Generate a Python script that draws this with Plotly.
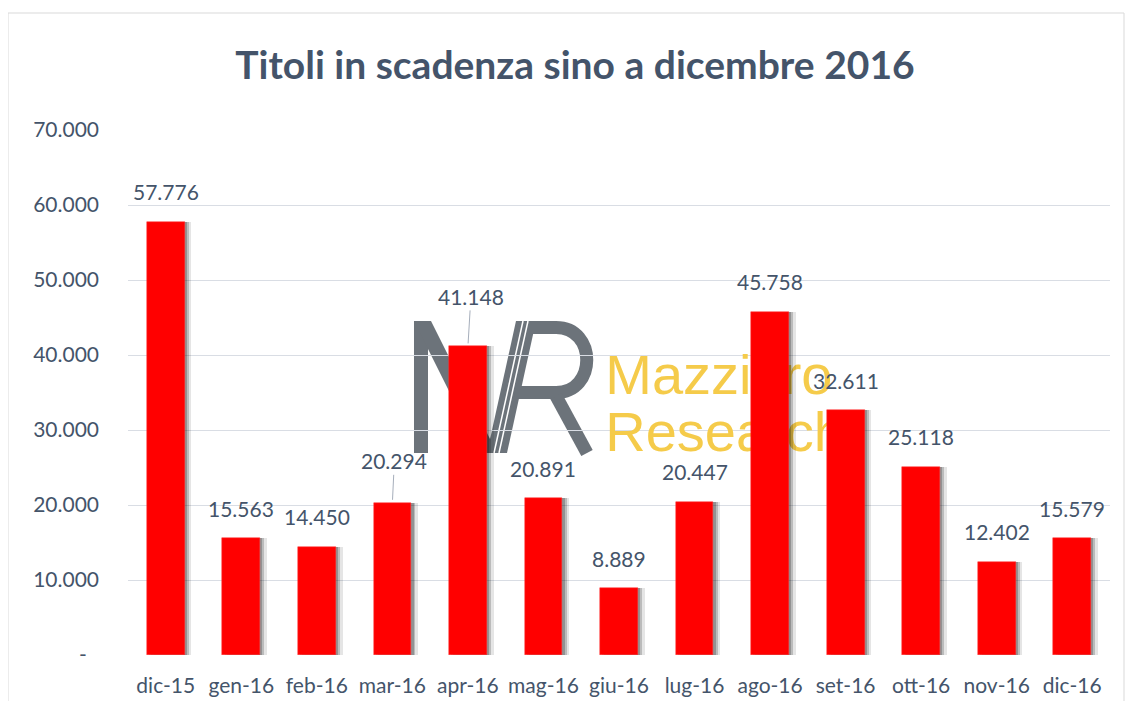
import plotly.graph_objects as go

categories = ["dic-15", "gen-16", "feb-16", "mar-16", "apr-16", "mag-16", "giu-16",
              "lug-16", "ago-16", "set-16", "ott-16", "nov-16", "dic-16"]
values = [57776, 15563, 14450, 20294, 41148, 20891, 8889, 20447, 45758, 32611, 25118, 12402, 15579]
y_ticks = [0, 10000, 20000, 30000, 40000, 50000, 60000, 70000]
title_text = "Titoli in scadenza sino a dicembre 2016"


def fmt(v):
    return f"{v:,}".replace(",", ".")


y_ticktext = ["-\u2007" if v == 0 else fmt(v) for v in y_ticks]

TXT = "#44546A"
FONT = "Lato, 'Open Sans', sans-serif"
LOGO_GREY = "#6C737A"

W, H = 1117, 693
L, T = 120, 122
PW, PH = 982, 525
OFF = 8  # page offset of the figure inside the browser


def P(x, y):
    """page pixel -> paper coords string"""
    xp = (x - OFF - L) / PW
    yp = (T + PH - (y - OFF)) / PH
    return f"{xp:.5f},{yp:.5f}"


def poly(pts):
    return "M" + " L".join(P(x, y) for x, y in pts) + " Z"


fig = go.Figure()

# ---- Watermark logo (drawn beneath grid and bars) ----
logo_fills = [
    poly([(414, 321), (428, 321), (428, 453), (414, 453)]),                 # M stem
    poly([(414, 321), (431, 321), (497, 453), (480, 453)]),                 # M diagonal
    poly([(487, 453), (507, 453), (536, 321), (516, 321)]),                 # shared slash
]
for p in logo_fills:
    fig.add_shape(type="path", path=p, xref="paper", yref="paper", layer="below",
                  fillcolor=LOGO_GREY, line=dict(width=0))
# R bowl and leg as strokes
bowl = ("M" + P(530, 327.5) + " L" + P(556, 327.5) + " C" + P(597, 327.5) + " " +
        P(597, 392.5) + " " + P(556, 392.5) + " L" + P(515, 392.5))
fig.add_shape(type="path", path=bowl, xref="paper", yref="paper", layer="below",
              line=dict(color=LOGO_GREY, width=13))
fig.add_shape(type="path", path="M" + P(556, 396) + " L" + P(587, 453),
              xref="paper", yref="paper", layer="below",
              line=dict(color=LOGO_GREY, width=13))
# double white lines in the slash
for dx in (0, 5):
    fig.add_shape(type="path", path="M" + P(494 + dx, 453) + " L" + P(523 + dx, 321),
                  xref="paper", yref="paper", layer="below",
                  line=dict(color="white", width=1.5))

fig.add_trace(go.Scatter(
    x=[0.486, 0.486], y=[0.524, 0.415], mode="text",
    text=["Mazziero", "Research"], textposition="middle right",
    textfont=dict(family="'Liberation Sans', Arial, sans-serif", size=56, color="#F5CB4A"),
    xaxis="x", yaxis="y", hoverinfo="skip", showlegend=False))

# ---- Bar shadows ----
for off, col in [(0.09, "rgba(0,0,0,0.10)"), (0.055, "rgba(0,0,0,0.18)"), (0.03, "rgba(0,0,0,0.22)")]:
    fig.add_trace(go.Bar(
        x=categories, y=values, width=0.5, offset=-0.25 + off,
        marker=dict(color=col, line=dict(width=0)),
        xaxis="x2", yaxis="y2", hoverinfo="skip", showlegend=False))

fig.add_trace(go.Bar(
    x=categories, y=values, width=0.5, offset=-0.25,
    marker=dict(color="#FF0000", line=dict(color="#FF3030", width=0.5)),
    xaxis="x2", yaxis="y2", showlegend=False))

# ---- Data labels ----
special = {"mar-16": (2, -42), "apr-16": (3, -50)}
for c, v in zip(categories, values):
    if c in special:
        ax, ay = special[c]
        fig.add_annotation(x=c, y=v, xref="x2", yref="y2", text=fmt(v),
                           showarrow=True, arrowhead=0, arrowwidth=1, arrowcolor="#A6AEBB",
                           ax=ax, ay=ay, standoff=3,
                           font=dict(family=FONT, size=21, color=TXT))
    else:
        fig.add_annotation(x=c, y=v, xref="x2", yref="y2", text=fmt(v),
                           showarrow=False, yshift=30,
                           font=dict(family=FONT, size=21, color=TXT))

# ---- Outer chart border ----
fig.add_shape(type="rect", xref="paper", yref="paper",
              x0=(0 - L) / PW, x1=(W - 1 - L) / PW,
              y0=(T + PH - 760) / PH, y1=(T + PH - 5) / PH,
              line=dict(color="#D9D9D9", width=1), fillcolor="rgba(0,0,0,0)", layer="below")

fig.update_layout(
    width=W, height=H,
    margin=dict(l=L, r=W - L - PW, t=T, b=H - T - PH, autoexpand=False),
    paper_bgcolor="white", plot_bgcolor="rgba(0,0,0,0)",
    barmode="overlay", bargap=0,
    title=dict(text=title_text, x=567 / W, xref="container", xanchor="center",
               y=1 - 57 / H, yref="container", yanchor="middle",
               font=dict(family=FONT, size=39, color=TXT, weight="bold")),
    xaxis=dict(range=[0, 1], visible=False, fixedrange=True),
    yaxis=dict(range=[0, 1], visible=False, fixedrange=True),
    xaxis2=dict(overlaying="x", type="category", categoryorder="array", categoryarray=categories,
                showgrid=False, showline=False, ticks="", ticklabelstandoff=16,
                tickfont=dict(family=FONT, size=21, color=TXT), anchor="y2"),
    yaxis2=dict(overlaying="y", range=[0, 70000], tickvals=y_ticks, ticktext=y_ticktext,
                showgrid=True, gridcolor="#D9DDE4", gridwidth=1,
                zeroline=False, showline=False, ticks="", ticklabelstandoff=28,
                tickfont=dict(family=FONT, size=21, color=TXT), anchor="x2", side="left"),
    font=dict(family=FONT, color=TXT),
)

fig.write_html("out.html")
